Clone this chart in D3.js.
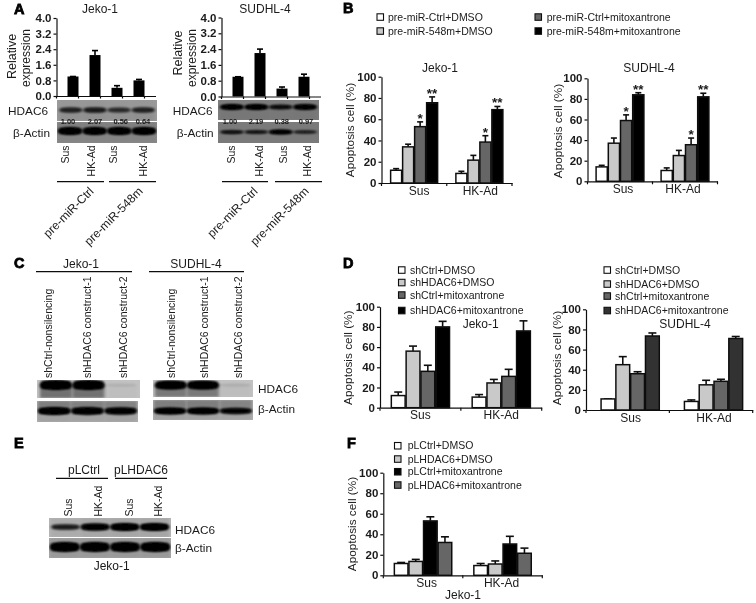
<!DOCTYPE html>
<html><head><meta charset="utf-8">
<script src="https://cdnjs.cloudflare.com/ajax/libs/d3/7.8.5/d3.min.js"></script>
<style>html,body{margin:0;padding:0;background:#fff}svg{display:block}text{font-family:"Liberation Sans",Arial,sans-serif;fill:#1a1a1a}</style>
</head><body><svg id="c" width="756" height="603"></svg>
<script>
// ---------- data ----------
const exprCats = ["Sus","HK-Ad","Sus2","HK-Ad2"];
const exprTicks = [0,0.8,1.6,2.4,3.2,4.0];
const jekoExpr = [1.0,2.1,0.42,0.8];
const jekoExprTop = [1.0,2.33,0.53,0.85];
const sudhlExpr = [1.0,2.2,0.4,1.0];
const sudhlExprTop = [1.0,2.4,0.48,1.13];
const jekoRatio = ["1.00","2.07","0.56","0.64"];
const sudhlRatio = ["1.00","2.19","0.38","0.97"];

const groups = ["Sus","HK-Ad"];
const pctTicks = [0,20,40,60,80,100];

const legendB = ["pre-miR-Ctrl+DMSO","pre-miR-548m+DMSO","pre-miR-Ctrl+mitoxantrone","pre-miR-548m+mitoxantrone"];
const legendD = ["shCtrl+DMSO","shHDAC6+DMSO","shCtrl+mitoxantrone","shHDAC6+mitoxantrone"];
const legendF = ["pLCtrl+DMSO","pLHDAC6+DMSO","pLCtrl+mitoxantrone","pLHDAC6+mitoxantrone"];

const bJekoSus = [12,34,53,75.5],  bJekoSusTop = [13.5,36.5,57.5,81];
const bJekoHK  = [9,21.5,38.5,69], bJekoHKTop  = [11,26,44.5,72];
const bSudSus  = [14,37,59,84],    bSudSusTop  = [15.5,42,64.5,86];
const bSudHK   = [10.5,25,35.5,82],bSudHKTop   = [13,30,42,85.5];
const bStars   = ["","","*","**"];

const dJekoSus = [12,56,36,80],    dJekoSusTop = [15.5,61,42,85.5];
const dJekoHK  = [10.5,24.5,31,76],dJekoHKTop  = [13,28,38,86];
const dSudSus  = [11,45,36,73.5],  dSudSusTop  = [11,53,38,76.5];
const dSudHK   = [8.5,25,28.5,71], dSudHKTop   = [10,29.5,30.5,73];

const fSus = [11.5,13.5,53,32],    fSusTop = [12.5,15.5,57,37.5];
const fHK  = [9.5,11,30.5,21.5],   fHKTop  = [11.5,14,38,26.5];

const colorsStd = ["#ffffff","#c9c9c9","#666666","#000000"];
const colorsDr  = ["#ffffff","#c9c9c9","#666666","#333333"];
const colorsF   = ["#ffffff","#c9c9c9","#000000","#666666"];

const cConstructs = ["shCtrl-nonsilencing","shHDAC6 construct-1","shHDAC6 construct-2"];
const ePairs = ["Sus","HK-Ad","Sus","HK-Ad"];

// blot band darkness, 0..1
const aJekoHdac = [0.55,0.6,0.5,0.55], aJekoActin = [1,1,1,1];
const aSudHdac  = [1,1,0.75,0.95],     aSudActin  = [0.75,0.7,1,0.6];
const cHdacL = [1,1,0.04], cActinL = [1,0.95,0.9];
const cHdacR = [1,1,0.05], cActinR = [1,1,0.85];
const eHdac = [0.6,0.9,1,1], eActin = [1,1,1,1];

// ---------- drawing ----------
const root = d3.select("#c");
const defs = root.append("defs");
defs.append("filter").attr("id","b2").attr("x","-30%").attr("y","-80%").attr("width","160%").attr("height","260%")
  .append("feGaussianBlur").attr("stdDeviation","1.6 1.2");
defs.append("filter").attr("id","b1").attr("filterUnits","userSpaceOnUse").attr("x",0).attr("y",0).attr("width",756).attr("height",603)
  .append("feGaussianBlur").attr("stdDeviation","0.35");
const svg = root.append("g").attr("filter","url(#b1)");
svg.append("rect").attr("width",756).attr("height",603).attr("fill","#fff");

function txt(p,x,y,s,o={}){
  const t=p.append("text").attr("x",x).attr("y",y).text(s)
    .attr("font-size",o.size||11).attr("text-anchor",o.anchor||"start");
  if(o.weight) t.attr("font-weight",o.weight);
  if(o.rot!==undefined) t.attr("transform",`rotate(${o.rot},${x},${y})`);
  return t;
}
function rule(x1,x2,y,w=1.3){
  svg.append("line").attr("x1",x1).attr("x2",x2).attr("y1",y).attr("y2",y).attr("stroke","#111").attr("stroke-width",w);
}
function styleAxis(g){
  g.selectAll("path,line").attr("stroke","#111").attr("stroke-width",1.2);
}
function yAxis(g,y,ticks,fmt){
  g.call(d3.axisLeft(y).tickValues(ticks).tickSize(3).tickSizeOuter(0).tickPadding(2).tickFormat(fmt));
  styleAxis(g);
  g.selectAll("text").attr("font-size",11.5).attr("font-weight","bold");
}
function groupedPanel(o){
  const y=d3.scaleLinear().domain([0,100]).range([o.y0,o.y1]);
  const x0=d3.scaleBand().domain(groups).range([o.xa,o.xb]);
  const x1=d3.scaleBand().domain(d3.range(4)).range([0,o.bar*4]);
  const g=svg.append("g");
  const dx=o.shift||0;
  groups.forEach((grp,gi)=>{
    const off=x0(grp)+x0.bandwidth()/2-o.bar*2+dx;
    const vals=o.vals[gi], tops=o.tops[gi];
    const gg=g.append("g").attr("transform",`translate(${off},0)`);
    gg.selectAll("line.e").data(vals).join("line").attr("class","e")
      .attr("x1",(d,i)=>x1(i)+x1.bandwidth()/2).attr("x2",(d,i)=>x1(i)+x1.bandwidth()/2)
      .attr("y1",d=>y(d)).attr("y2",(d,i)=>y(tops[i])).attr("stroke","#111").attr("stroke-width",1.6);
    gg.selectAll("line.c").data(tops).join("line").attr("class","c")
      .attr("x1",(d,i)=>x1(i)+x1.bandwidth()/2-o.cap).attr("x2",(d,i)=>x1(i)+x1.bandwidth()/2+o.cap)
      .attr("y1",d=>y(d)).attr("y2",d=>y(d)).attr("stroke","#111").attr("stroke-width",1.6);
    gg.selectAll("rect").data(vals).join("rect")
      .attr("x",(d,i)=>x1(i)+0.5).attr("width",x1.bandwidth()-1)
      .attr("y",d=>y(d)).attr("height",d=>y(0)-y(d))
      .attr("fill",(d,i)=>o.colors[i]).attr("stroke","#111").attr("stroke-width",1.5);
    if(o.stars) gg.selectAll("text").data(tops).join("text")
      .attr("x",(d,i)=>x1(i)+x1.bandwidth()/2).attr("y",d=>y(d)+1)
      .attr("text-anchor","middle").attr("font-size",13.5).attr("font-weight","bold")
      .text((d,i)=>o.stars[i]);
  });
  const ya=svg.append("g").attr("transform",`translate(${o.xa},0)`);
  yAxis(ya,y,pctTicks,d3.format("d"));
  const xa=svg.append("g").attr("transform",`translate(0,${o.y0})`);
  xa.call(d3.axisBottom(x0).tickSize(0).tickSizeOuter(0).tickPadding(3));
  styleAxis(xa);
  xa.selectAll("text").attr("font-size",12).attr("dy","0.71em")
    .attr("dx",d=>o.labelDx[groups.indexOf(d)]);
  [o.xa,(o.xa+o.xb)/2,o.xb].forEach(t=>{
    xa.append("line").attr("x1",t).attr("x2",t).attr("y1",0).attr("y2",3).attr("stroke","#111").attr("stroke-width",1.2);
  });
  txt(svg,o.titleX,o.titleY,"Apoptosis cell (%)",{size:11.8,anchor:"middle",rot:-90});
}
function exprPanel(o){
  const y=d3.scaleLinear().domain([0,4]).range([o.y0,o.y1]);
  const x=d3.scaleBand().domain(exprCats).range([o.xa,o.xb]).padding(0.5);
  const g=svg.append("g");
  const bw=x.bandwidth();
  const cx=(d,i)=>x(exprCats[i])+bw/2;
  g.selectAll("line.e").data(o.tops).join("line").attr("class","e")
    .attr("x1",cx).attr("x2",cx).attr("y1",(d,i)=>y(o.vals[i])).attr("y2",d=>y(d)).attr("stroke","#000").attr("stroke-width",1.6);
  g.selectAll("line.c").data(o.tops).join("line").attr("class","c")
    .attr("x1",(d,i)=>cx(d,i)-3).attr("x2",(d,i)=>cx(d,i)+3).attr("y1",d=>y(d)).attr("y2",d=>y(d)).attr("stroke","#000").attr("stroke-width",1.6);
  g.selectAll("rect").data(o.vals).join("rect")
    .attr("x",(d,i)=>x(exprCats[i])).attr("width",bw)
    .attr("y",d=>y(d)).attr("height",d=>y(0)-y(d)).attr("fill","#000");
  yAxis(svg.append("g").attr("transform",`translate(${o.xa},0)`),y,exprTicks,d3.format(".1f"));
  const xa=svg.append("g").attr("transform",`translate(0,${o.y0})`);
  xa.call(d3.axisBottom(x).tickValues([]).tickSize(0).tickSizeOuter(0));
  styleAxis(xa);
  const step=x.step();
  d3.range(5).forEach(i=>{
    xa.append("line").attr("x1",o.xa+step*i).attr("x2",o.xa+step*i).attr("y1",0).attr("y2",2.5).attr("stroke","#111").attr("stroke-width",1.2);
  });
}
// a western-blot strip: background, one blurred dark band per lane, soft smear above/below
function blot(x,y,w,h,bg,levels,bandY,bandH,inset,below,above){
  const g=svg.append("g");
  const clip="cl"+Math.round(x)+"_"+Math.round(y);
  defs.append("clipPath").attr("id",clip).append("rect").attr("x",x).attr("y",y).attr("width",w).attr("height",h);
  const inner=g.append("g").attr("clip-path",`url(#${clip})`);
  inner.append("rect").attr("x",x).attr("y",y).attr("width",w).attr("height",h).attr("fill",bg);
  const xb=d3.scaleBand().domain(d3.range(levels.length)).range([x+inset,x+w-inset]).paddingInner(0.02);
  const hh=d=>bandH*(0.4+0.6*d);
  inner.selectAll("rect.s").data(levels).join("rect").attr("class","s")
    .attr("x",(d,i)=>xb(i)).attr("width",xb.bandwidth())
    .attr("y",bandY).attr("height",Math.max(0,y+h-bandY))
    .attr("fill","#222").attr("opacity",d=>(below||0)*d).attr("filter","url(#b2)");
  inner.selectAll("rect.a").data(levels).join("rect").attr("class","a")
    .attr("x",(d,i)=>xb(i)).attr("width",xb.bandwidth())
    .attr("y",y).attr("height",Math.max(0,bandY-y))
    .attr("fill","#222").attr("opacity",d=>(above||0)*d).attr("filter","url(#b2)");
  inner.selectAll("ellipse").data(levels).join("ellipse")
    .attr("cx",(d,i)=>xb(i)+xb.bandwidth()/2).attr("rx",xb.bandwidth()/2)
    .attr("cy",bandY).attr("ry",d=>hh(d)/2)
    .attr("fill","#040404").attr("opacity",d=>d).attr("filter","url(#b2)");
  inner.selectAll("rect.b").data(levels).join("rect").attr("class","b")
    .attr("x",(d,i)=>xb(i)+1).attr("width",xb.bandwidth()-2)
    .attr("y",d=>bandY-hh(d)/2+1).attr("height",d=>Math.max(0,hh(d)-2))
    .attr("rx",2).attr("fill","#040404").attr("opacity",d=>d).attr("filter","url(#b2)");
}

// ---- Panel letters
[["A",14,14],["B",343,13],["C",14,268],["D",343,268],["E",14,448],["F",347,448]].forEach(l=>{
  const t=txt(svg,l[1],l[2],l[0],{size:14.5,weight:"bold",anchor:"start"});
  t.attr("stroke","#000").attr("stroke-width",0.8).style("fill","#000");
});

// ---- Panel A
exprPanel({xa:56.5,xb:155.5,y0:96,y1:18,vals:jekoExpr,tops:jekoExprTop});
exprPanel({xa:221.5,xb:320.5,y0:96.5,y1:17.5,vals:sudhlExpr,tops:sudhlExprTop});
txt(svg,100,13,"Jeko-1",{size:12,anchor:"middle"});
txt(svg,265,13,"SUDHL-4",{size:12,anchor:"middle"});
[[16,56.5,"Relative",12.5],[30,58,"expression",12],[181.5,53,"Relative",12.5],[196,58,"expression",12]].forEach(a=>
  txt(svg,a[0],a[1],a[2],{size:a[3],anchor:"middle",rot:-90}));
blot(57,100,100,21,"#9b9b9b",aJekoHdac,110,8,2,0.15,0.05);
blot(57,122,100,21,"#8a8a8a",aJekoActin,131,8,1,0.05,0.1);
blot(218,100,101,20,"#7c7c7c",aSudHdac,107,6,2,0.05,0);
blot(218,122,101,21,"#7a7a7a",aSudActin,132,5,2,0,0);
[[jekoRatio,[68,95,120.7,143]],[sudhlRatio,[230,256,281.7,306]]].forEach(r=>{
  r[0].forEach((s,i)=>txt(svg,r[1][i],124,s,{size:7.5,weight:"bold",anchor:"middle"}));
});
[[8,115,"HDAC6"],[172.7,115,"HDAC6"],[13,137,"β-Actin"],[176.7,137,"β-Actin"]].forEach(a=>txt(svg,a[0],a[1],a[2],{size:11.8}));
[[69,0],[95,1],[117,2],[147,3],[235,0],[263,1],[287,2],[311,3]].forEach(a=>
  txt(svg,a[0],145.5,exprCats[a[1]].replace("2",""),{size:10.5,anchor:"end",rot:-90}));
rule(57,104,181.7);rule(109,156,181.7);rule(222,268,181.7);rule(275,322,181.7);
[[94.5,192,"pre-miR-Ctrl"],[143.5,192,"pre-miR-548m"],[258.5,192,"pre-miR-Ctrl"],[309.5,192,"pre-miR-548m"]].forEach(a=>
  txt(svg,a[0],a[1],a[2],{size:12,anchor:"end",rot:-45}));

// ---- legends
function legend(items,colors,xs,ys,tx,size=10.5){
  items.forEach((s,i)=>{
    svg.append("rect").attr("x",xs[i]).attr("y",ys[i]-3.2).attr("width",6.5).attr("height",6.5)
      .attr("fill",colors[i]).attr("stroke","#111").attr("stroke-width",1.1);
    txt(svg,tx[i],ys[i]+3.6,s,{size});
  });
}
legend(legendB,colorsStd,[377,377,535,535],[17,31,17,31],[388,388,546.7,546.7],10.5);

// ---- Panel B
groupedPanel({xa:381.5,xb:512,y0:183,y1:76.7,bar:12,cap:3,vals:[bJekoSus,bJekoHK],tops:[bJekoSusTop,bJekoHKTop],
  colors:colorsStd,stars:bStars,labelDx:[5,1],titleX:353.5,titleY:130});
groupedPanel({xa:587.5,xb:717.5,y0:181.3,y1:78.3,bar:12.2,cap:3,vals:[bSudSus,bSudHK],tops:[bSudSusTop,bSudHKTop],
  colors:colorsStd,stars:bStars,labelDx:[3,-2],titleX:562,titleY:131});
txt(svg,440,72,"Jeko-1",{size:12,anchor:"middle"});
txt(svg,649,72,"SUDHL-4",{size:12,anchor:"middle"});

// ---- Panel C
txt(svg,81,268,"Jeko-1",{size:12,anchor:"middle"});
txt(svg,196,268,"SUDHL-4",{size:12,anchor:"middle"});
rule(36,132,271.7);rule(149,244,271.7);
[[52,0],[91,1],[127,2],[175,0],[208,1],[242,2]].forEach(a=>
  txt(svg,a[0],378,cConstructs[a[1]],{size:10.5,rot:-90}));
blot(37,380,103,18,"#c2c2c2",cHdacL,385,10,3,0.5,0);
blot(37,401,101,21,"#b0b0b0",cActinL,411,8,1,0.1,0.35);
blot(153,380,100,17,"#c2c2c2",cHdacR,385,9,2,0.45,0);
blot(153,400,100,20,"#b0b0b0",cActinR,411,7,1,0.1,0.35);
txt(svg,258,393,"HDAC6",{size:11.8});
txt(svg,258,413,"β-Actin",{size:11.8});

// ---- Panel D
legend(legendD,colorsStd,[398.5,398.5,398.5,398.5],[270,282.5,295,310.5],[410,410,410,410],10.5);
groupedPanel({xa:380,xb:541.7,y0:407.7,y1:306.7,bar:14.8,cap:4,vals:[dJekoSus,dJekoHK],tops:[dJekoSusTop,dJekoHKTop],
  colors:colorsStd,labelDx:[0,0],titleX:351.7,titleY:357.7});
legend(legendD,colorsDr,[604,604,604,604],[270,284,296,310.5],[615,615,615,615],10.5);
groupedPanel({xa:586,xb:752.7,y0:410,y1:309.3,bar:14.8,cap:4,shift:2.5,vals:[dSudSus,dSudHK],tops:[dSudSusTop,dSudHKTop],
  colors:colorsDr,labelDx:[3,3],titleX:561,titleY:358});
txt(svg,480.7,328,"Jeko-1",{size:12,anchor:"middle"});
txt(svg,685,328,"SUDHL-4",{size:12,anchor:"middle"});

// ---- Panel E
txt(svg,84,473.5,"pLCtrl",{size:12,anchor:"middle"});
txt(svg,141,473.5,"pLHDAC6",{size:12,anchor:"middle"});
rule(56,108,478.3);rule(115,167,478.3);
[[72,0],[102,1],[133,2],[162,3]].forEach(a=>txt(svg,a[0],516.5,ePairs[a[1]],{size:10.5,rot:-90}));
blot(49,518,122,19,"#b5b5b5",eHdac,527,8,2,0.1,0.1);
blot(49,538,122,20,"#a8a8a8",eActin,547,10,1,0.1,0.1);
txt(svg,175,534,"HDAC6",{size:11.8});
txt(svg,175,552,"β-Actin",{size:11.8});
txt(svg,111.7,570,"Jeko-1",{size:12,anchor:"middle"});

// ---- Panel F
legend(legendF,colorsF,[394.5,394.5,394.5,394.5],[445.7,459,471.7,485],[407.7,407.7,407.7,407.7],10.5);
groupedPanel({xa:383.3,xb:542.3,y0:575.3,y1:472.7,bar:14.6,cap:4,vals:[fSus,fHK],tops:[fSusTop,fHKTop],
  colors:colorsF,labelDx:[3.5,-1],titleX:355.7,titleY:524});
txt(svg,463,599,"Jeko-1",{size:12,anchor:"middle"});
</script></body></html>
